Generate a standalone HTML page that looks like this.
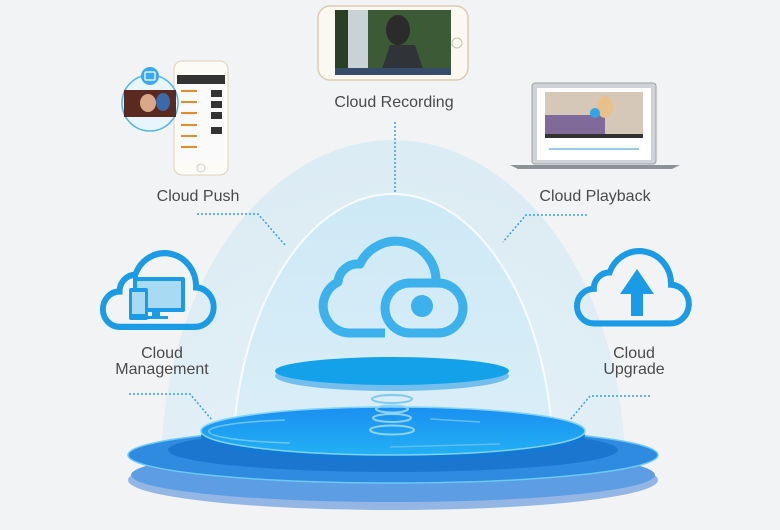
<!DOCTYPE html>
<html><head><meta charset="utf-8"><style>
html,body{margin:0;padding:0;background:#f2f3f4;overflow:hidden;width:780px;height:530px;}
svg{display:block}
text{font-family:"Liberation Sans",sans-serif;fill:#4a4a4a;}
</style></head><body>
<svg width="780" height="530" viewBox="0 0 780 530" xmlns="http://www.w3.org/2000/svg">
<defs>
<radialGradient id="dome1" cx="50%" cy="100%" r="100%">
<stop offset="0" stop-color="#eef5f9"/><stop offset="1" stop-color="#dcecf4"/></radialGradient>
<linearGradient id="dome2" x1="0" y1="0" x2="0" y2="1">
<stop offset="0" stop-color="#cde9f6"/><stop offset="1" stop-color="#e9f4f9"/></linearGradient>
<linearGradient id="top" x1="0" y1="0" x2="0" y2="1">
<stop offset="0" stop-color="#1b8ff0"/><stop offset="1" stop-color="#22b0f4"/></linearGradient>
<path id="cl" d="M22,72 L98,72 A19,19 0 0 0 100,34 A32,32 0 0 0 38,22 A16,16 0 0 0 22,38 A17,17 0 0 0 22,72 Z" fill="none" stroke="#1b9be6" stroke-width="6"/>
</defs>
<rect width="780" height="530" fill="#f2f3f4"/>
<ellipse cx="393" cy="470" rx="232" ry="330" fill="url(#dome1)"/>
<ellipse cx="393" cy="462" rx="160" ry="268" fill="url(#dome2)" stroke="#f7fbfd" stroke-width="2"/>
<rect x="150" y="480" width="490" height="50" fill="#f2f3f4"/>

<!-- platform -->
<ellipse cx="393" cy="480" rx="265" ry="30" fill="#93b6e4"/>
<ellipse cx="393" cy="475" rx="262" ry="27" fill="#5d9de3"/>
<ellipse cx="393" cy="455" rx="265" ry="28" fill="#2e8be0" stroke="#6cc8f4" stroke-width="1.5"/>
<ellipse cx="393" cy="450" rx="225" ry="22" fill="#1a76cf"/>
<ellipse cx="393" cy="436" rx="192" ry="24" fill="#1479d4"/>
<ellipse cx="393" cy="431" rx="192" ry="24" fill="url(#top)" stroke="#7fd3f7" stroke-width="1.5"/>
<path d="M285,420 A110,12 0 0 0 290,443" fill="none" stroke="#6cc6f5" stroke-width="1.5"/>
<path d="M430,419 L480,422 M390,447 L500,444" stroke="#5fbdf3" stroke-width="1.5"/>
<ellipse cx="392" cy="399" rx="20" ry="4" fill="none" stroke="#7fc9f0" stroke-width="2"/>
<ellipse cx="392" cy="409" rx="16" ry="3.5" fill="none" stroke="#8fd3f5" stroke-width="2"/>
<ellipse cx="392" cy="418" rx="19" ry="4" fill="none" stroke="#8fd3f5" stroke-width="2"/>
<ellipse cx="392" cy="430" rx="22" ry="4.5" fill="none" stroke="#8fd3f5" stroke-width="2"/>
<ellipse cx="392" cy="376" rx="117" ry="15" fill="#4aaae8" opacity="0.7"/>
<ellipse cx="392" cy="371" rx="117" ry="14" fill="#13a2ea"/>

<!-- central cloud -->
<g fill="none" stroke="#3cb1ec" stroke-width="9" stroke-linejoin="round">
<path d="M385,333 L348,333 A27,27 0 0 1 338,282 A20,20 0 0 1 360,264 A40,40 0 0 1 436,284"/>
<rect x="385" y="283" width="78" height="50" rx="25"/>
</g>
<circle cx="422" cy="306" r="11" fill="#3cb1ec"/>

<!-- side clouds -->
<use href="#cl" transform="translate(98,252) scale(0.98,1.04)"/>
<rect x="133" y="277" width="52" height="35" rx="2" fill="#1b9be6"/>
<rect x="137" y="281" width="44" height="27" fill="#a8dbf3"/>
<rect x="152" y="312" width="8" height="5" fill="#1b9be6"/><rect x="146" y="316" width="22" height="3" fill="#1b9be6"/>
<rect x="129" y="288" width="19" height="32" rx="2" fill="#1b9be6"/>
<rect x="132" y="292" width="13" height="22" fill="#a8dbf3"/>
<use href="#cl" transform="translate(572,250) scale(0.99,1.02)"/>
<path d="M637,269 L654,294 L643,294 L643,316 L631,316 L631,294 L620,294 Z" fill="#1b9be6"/>

<!-- dotted connectors -->
<g fill="none" stroke="#3a9ed8" stroke-width="1.5" stroke-dasharray="2,2">
<path d="M197,214 L258,214 L285,245"/>
<path d="M587,215 L526,215 L503,242"/>
<path d="M129,394 L190,394 L212,420"/>
<path d="M650,396 L590,396 L570,420"/>
<path d="M395,122 L395,192"/>
</g>

<!-- labels -->
<g font-size="16" text-anchor="middle">
<text x="394" y="107">Cloud Recording</text>
<text x="198" y="201">Cloud Push</text>
<text x="595" y="201">Cloud Playback</text>
<text x="162" y="358">Cloud</text>
<text x="162" y="374">Management</text>
<text x="634" y="358">Cloud</text>
<text x="634" y="374">Upgrade</text>
</g>

<!-- recording phone -->
<rect x="318" y="6" width="150" height="74" rx="12" fill="#fbf8f2" stroke="#d9ccb0" stroke-width="1.5"/>
<rect x="335" y="10" width="116" height="65" fill="#3c5a36"/>
<rect x="348" y="10" width="20" height="65" fill="#c9d2d6"/>
<rect x="335" y="10" width="13" height="65" fill="#2a4024"/>
<ellipse cx="398" cy="30" rx="12" ry="15" fill="#2b2b2b"/>
<path d="M380,75 L390,45 L415,45 L425,75 Z" fill="#303338"/>
<rect x="335" y="68" width="116" height="7" fill="#364c6a"/>
<circle cx="457" cy="43" r="5" fill="none" stroke="#c9bfa8"/>

<!-- push phone -->
<rect x="174" y="61" width="54" height="114" rx="8" fill="#fdfbf6" stroke="#ddd2bc" stroke-width="1"/>
<rect x="177" y="75" width="48" height="86" fill="#fafafa"/>
<rect x="177" y="75" width="48" height="9" fill="#333"/>
<g fill="#e88a2c"><rect x="181" y="90" width="16" height="2"/><rect x="181" y="101" width="16" height="2"/><rect x="181" y="112" width="16" height="2"/><rect x="181" y="124" width="16" height="2"/><rect x="181" y="135" width="16" height="2"/><rect x="181" y="146" width="16" height="2"/></g>
<g fill="#333"><rect x="211" y="90" width="11" height="7"/><rect x="211" y="101" width="11" height="7"/><rect x="211" y="112" width="11" height="7"/><rect x="211" y="127" width="11" height="7"/></g>
<circle cx="201" cy="168" r="4" fill="none" stroke="#ccc"/>
<circle cx="150" cy="103" r="28" fill="#e8f5fc" stroke="#4fb6ea" stroke-width="1.5"/>
<rect x="124" y="90" width="52" height="27" fill="#5a2a20"/>
<ellipse cx="148" cy="103" rx="8" ry="9" fill="#d9a88a"/><ellipse cx="163" cy="102" rx="7" ry="9" fill="#3a6aa8"/>
<circle cx="150" cy="76" r="9" fill="#39a9e8"/>
<rect x="145" y="72" width="10" height="8" rx="1" fill="none" stroke="#fff" stroke-width="1.2"/>

<!-- laptop -->
<rect x="532" y="83" width="124" height="81" rx="3" fill="#cfd3d8" stroke="#9aa0a6"/>
<rect x="537" y="88" width="114" height="72" fill="#fff"/>
<rect x="545" y="92" width="98" height="43" fill="#d6c8b8"/>
<rect x="545" y="115" width="60" height="20" fill="#7f6a9a"/>
<ellipse cx="605" cy="107" rx="8" ry="11" fill="#e9c08a"/>
<circle cx="595" cy="113" r="5" fill="#2fa6e6"/>
<rect x="545" y="134" width="98" height="4" fill="#333"/>
<rect x="549" y="148" width="90" height="2" fill="#9cc9ea"/>
<path d="M510,165 L680,165 L672,169 L518,169 Z" fill="#8d9298"/>
</svg>
</body></html>
